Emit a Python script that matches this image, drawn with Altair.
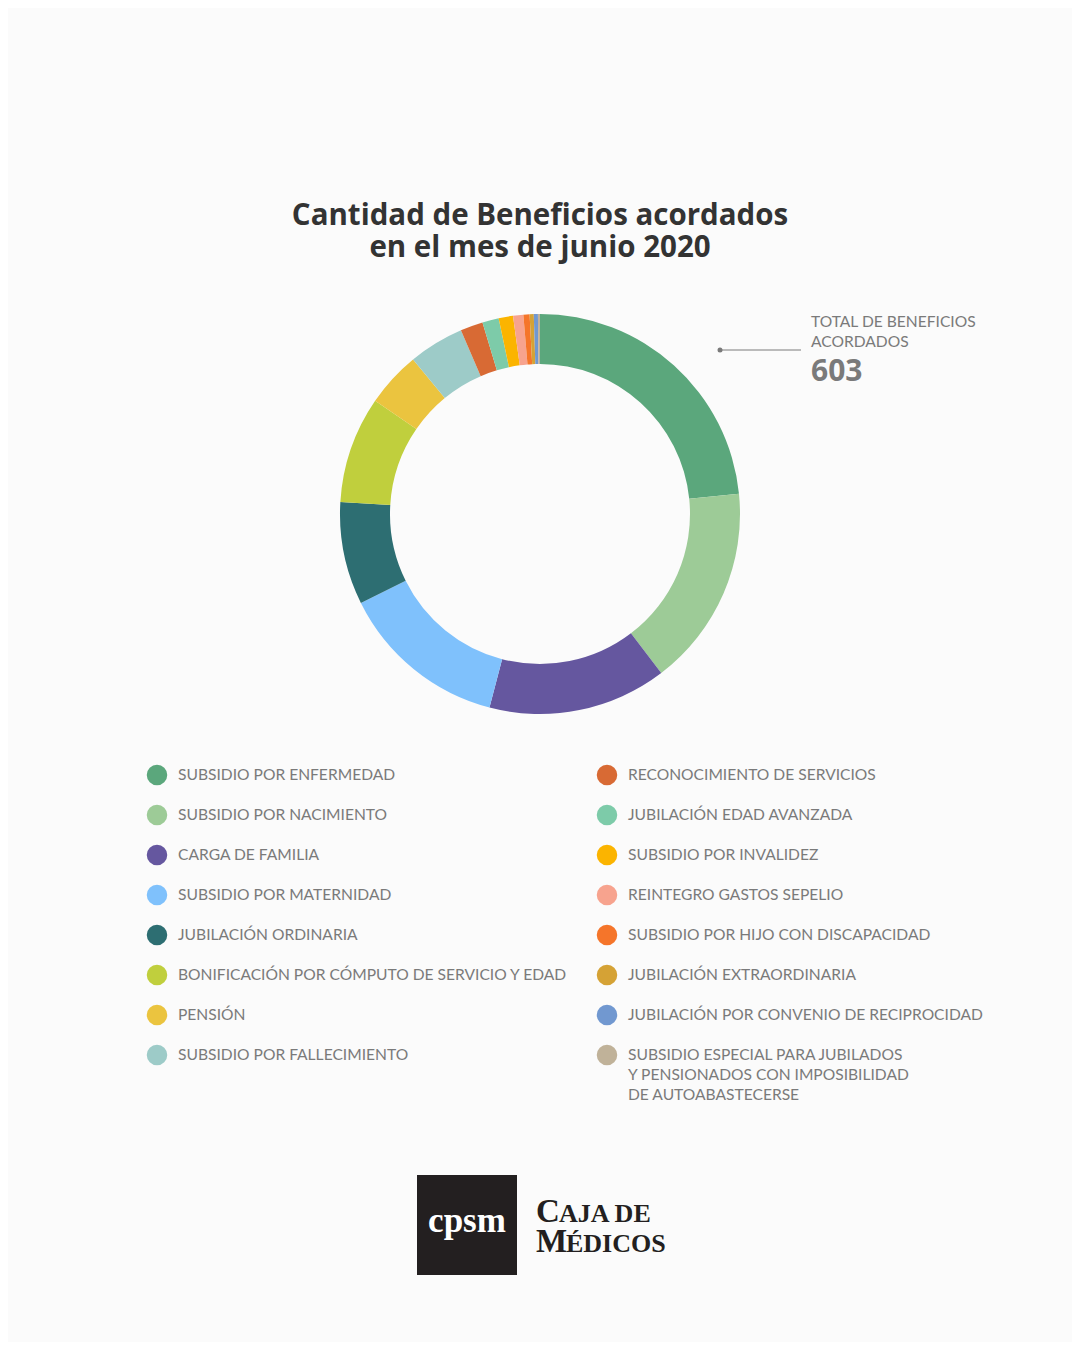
import altair as alt
import pandas as pd

categories = [
    "SUBSIDIO POR ENFERMEDAD",
    "SUBSIDIO POR NACIMIENTO",
    "CARGA DE FAMILIA",
    "SUBSIDIO POR MATERNIDAD",
    "JUBILACIÓN ORDINARIA",
    "BONIFICACIÓN POR CÓMPUTO DE SERVICIO Y EDAD",
    "PENSIÓN",
    "SUBSIDIO POR FALLECIMIENTO",
    "RECONOCIMIENTO DE SERVICIOS",
    "JUBILACIÓN EDAD AVANZADA",
    "SUBSIDIO POR INVALIDEZ",
    "REINTEGRO GASTOS SEPELIO",
    "SUBSIDIO POR HIJO CON DISCAPACIDAD",
    "JUBILACIÓN EXTRAORDINARIA",
    "JUBILACIÓN POR CONVENIO DE RECIPROCIDAD",
    "SUBSIDIO ESPECIAL PARA JUBILADOS\nY PENSIONADOS CON  IMPOSIBILIDAD\nDE AUTOABASTECERSE",
]
values = [141, 98, 87, 82, 50, 52, 27, 27, 11, 8, 7, 5, 3, 2, 2, 1]
colors = [
    "#5BA77C", "#9DCB97", "#65579F", "#7FC1FC", "#2D6E72", "#C0CF3D",
    "#EBC43F", "#9DCBC8", "#D86A34", "#7DCBA9", "#FBB400", "#F7A38E",
    "#F5752A", "#D5A235", "#7198D0", "#C0B299",
]
total_label = "603"

df = pd.DataFrame({
    "name": categories,
    "value": values,
    "idx": list(range(len(categories))),
    "col": [i // 8 for i in range(len(categories))],
    "row": [i % 8 for i in range(len(categories))],
})

color_scale = alt.Scale(domain=categories, range=colors)
W, H = 1064, 1334
FONT = "Lato"
GREY = "#7a7a7a"

base = alt.Chart(df)

donut = base.mark_arc(radius=200, innerRadius=150).encode(
    theta=alt.Theta("value:Q", stack=True),
    order=alt.Order("idx:Q"),
    color=alt.Color("name:N", scale=color_scale, legend=None),
    x=alt.value(532),
    y=alt.value(506),
)

lx = alt.X("col:Q", scale=alt.Scale(domain=[0, 1], range=[149, 599]), axis=None)
ly = alt.Y("row:Q", scale=alt.Scale(domain=[0, 7], range=[767, 1047]), axis=None)

leg_dots = base.mark_circle(size=420, opacity=1).encode(
    x=lx, y=ly,
    color=alt.Color("name:N", scale=color_scale, legend=None),
)
leg_text = base.mark_text(
    align="left", baseline="top", dx=21, dy=-7, fontSize=15.6, font=FONT,
    color=GREY, lineBreak="\n", lineHeight=20,
).encode(x=lx, y=ly, text="name:N")

title_df = pd.DataFrame({"t": ["Cantidad de Beneficios acordados", "en el mes de junio 2020"], "k": [0, 1]})
title = alt.Chart(title_df).mark_text(
    fontSize=29.5, fontWeight="bold", font="Open Sans", color="#333333", baseline="middle", align="center"
).encode(
    x=alt.value(532),
    y=alt.Y("k:Q", scale=alt.Scale(domain=[0, 1], range=[208, 240]), axis=None),
    text="t:N",
)

ann_df = pd.DataFrame({"t": ["TOTAL DE BENEFICIOS", "ACORDADOS"], "k": [0, 1]})
ann_text = alt.Chart(ann_df).mark_text(
    fontSize=15.6, font=FONT, color=GREY, align="left", baseline="middle"
).encode(
    x=alt.value(803),
    y=alt.Y("k:Q", scale=alt.Scale(domain=[0, 1], range=[314, 334]), axis=None),
    text="t:N",
)
ann_num = alt.Chart(pd.DataFrame({"t": [total_label]})).mark_text(
    fontSize=30, fontWeight="bold", font="Open Sans", color=GREY, align="left", baseline="middle"
).encode(x=alt.value(803), y=alt.value(364), text="t:N")
ann_line = alt.Chart(pd.DataFrame({"a": [0]})).mark_rule(color=GREY, strokeWidth=1).encode(
    x=alt.value(712), x2=alt.value(793), y=alt.value(342)
)
ann_dot = alt.Chart(pd.DataFrame({"a": [0]})).mark_circle(size=25, color=GREY, opacity=1).encode(
    x=alt.value(712), y=alt.value(342)
)

logo_box = alt.Chart(pd.DataFrame({"a": [0]})).mark_rect(color="#231F20").encode(
    x=alt.value(409), x2=alt.value(509), y=alt.value(1167), y2=alt.value(1267)
)
logo_cpsm = alt.Chart(pd.DataFrame({"t": ["cpsm"]})).mark_text(
    fontSize=35, fontWeight="bold", font="Liberation Serif", color="white", align="center", baseline="middle"
).encode(x=alt.value(459), y=alt.value(1213), text="t:N")

big_df = pd.DataFrame({"t": ["C", "M"], "k": [0, 1]})
small_df = pd.DataFrame({"t": ["AJA DE", "ÉDICOS"], "k": [0, 1]})
logo_y = alt.Y("k:Q", scale=alt.Scale(domain=[0, 1], range=[1214, 1244]), axis=None)
logo_big = alt.Chart(big_df).mark_text(
    fontSize=33, fontWeight="bold", font="Liberation Serif", color="#231F20", align="left", baseline="alphabetic"
).encode(x=alt.value(528), y=logo_y, text="t:N")
logo_small1 = alt.Chart(small_df.iloc[[0]]).mark_text(
    fontSize=26, fontWeight="bold", font="Liberation Serif", color="#231F20", align="left", baseline="alphabetic"
).encode(x=alt.value(551), y=logo_y, text="t:N")
logo_small2 = alt.Chart(small_df.iloc[[1]]).mark_text(
    fontSize=26, fontWeight="bold", font="Liberation Serif", color="#231F20", align="left", baseline="alphabetic"
).encode(x=alt.value(558), y=logo_y, text="t:N")

chart = alt.layer(
    donut, leg_dots, leg_text, title, ann_text, ann_num, ann_line, ann_dot,
    logo_box, logo_cpsm, logo_big, logo_small1, logo_small2,
).resolve_scale(x="independent", y="independent").properties(
    width=W, height=H, autosize=alt.AutoSizeParams(type="none"), padding=0,
    background="#FBFBFB",
).configure_view(stroke=None)

chart.save("out.html", embed_options={"renderer": "svg", "actions": False})
